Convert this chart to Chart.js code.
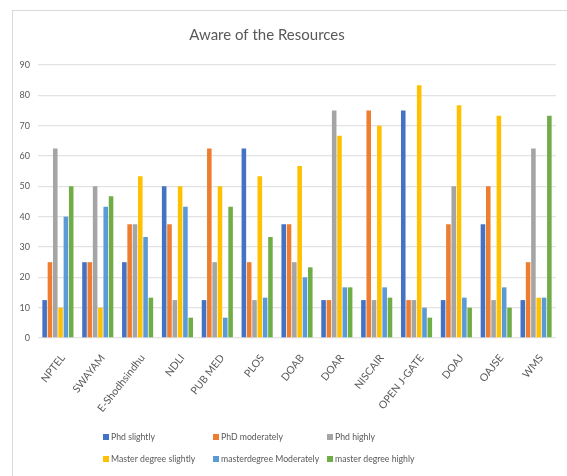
<!DOCTYPE html>
<html>
<head>
<meta charset="utf-8">
<script src="https://cdn.jsdelivr.net/npm/chart.js@4.4.0/dist/chart.umd.min.js"></script>
<style>
  body { margin: 0; background: #fff; }
  #wrap { position: relative; width: 567px; height: 476px; }
  #frame { position: absolute; left: 12px; top: 10px; width: 600px; height: 500px;
           border-left: 1px solid #d9d9d9; border-top: 1px solid #d9d9d9; }
</style>
</head>
<body>
<div id="wrap">
  <div id="frame"></div>
  <canvas id="myChart" width="567" height="476"></canvas>
</div>
<script>
// resources on the x axis
var resources = ['NPTEL', 'SWAYAM', 'E-Shodhsindhu', 'NDLI', 'PUB MED', 'PLOS', 'DOAB',
                 'DOAR', 'NISCAIR', 'OPEN J-GATE', 'DOAJ', 'OAJSE', 'WMS'];

// percentages
var phdSlightly     = [12.5, 25, 25, 50, 12.5, 62.5, 37.5, 12.5, 12.5, 75, 12.5, 37.5, 12.5];
var phdModerately   = [25, 25, 37.5, 37.5, 62.5, 25, 37.5, 12.5, 75, 12.5, 37.5, 50, 25];
var phdHighly       = [62.5, 50, 37.5, 12.5, 25, 12.5, 25, 75, 12.5, 12.5, 50, 12.5, 62.5];
var masterSlightly  = [10, 10, 53.3, 50, 50, 53.3, 56.7, 66.7, 70, 83.3, 76.7, 73.3, 13.3];
var masterModerately= [40, 43.3, 33.3, 43.3, 6.7, 13.3, 20, 16.7, 16.7, 10, 13.3, 16.7, 13.3];
var masterHighly    = [50, 46.7, 13.3, 6.7, 43.3, 33.3, 23.3, 16.7, 13.3, 6.7, 10, 10, 73.3];

var yTicks = [0, 10, 20, 30, 40, 50, 60, 70, 80, 90];

var textColor = '#595959';
var fontName = 'Lato';

// legend drawn as a 3 column grid like the excel one
var gridLegend = {
    id: 'gridLegend',
    afterLayout: function (chart) {
        // title sits a bit left of the middle in the original
        if (chart.titleBlock) {
            chart.titleBlock.left -= 17;
            chart.titleBlock.right -= 17;
        }
    },
    afterDraw: function (chart) {
        var ctx = chart.ctx;
        var cols = [103, 213, 327];
        var rows = [437, 459];
        ctx.save();
        ctx.font = '8.7px ' + fontName;
        ctx.textBaseline = 'middle';
        chart.data.datasets.forEach(function (ds, i) {
            var x = cols[i % 3];
            var y = rows[Math.floor(i / 3)];
            ctx.fillStyle = ds.backgroundColor;
            ctx.fillRect(x, y - 3, 6, 6);
            ctx.fillStyle = textColor;
            ctx.fillText(ds.label, x + 8, y);
        });
        ctx.restore();
    }
};

function makeSet(label, color, values) {
    return {
        label: label,
        backgroundColor: color,
        data: values,
        categoryPercentage: 0.8,
        barPercentage: 0.86
    };
}

var chartdata = {
    labels: resources,
    datasets: [
        makeSet('Phd slightly', '#4472C4', phdSlightly),
        makeSet('PhD moderately', '#ED7D31', phdModerately),
        makeSet('Phd highly', '#A5A5A5', phdHighly),
        makeSet('Master degree slightly', '#FFC000', masterSlightly),
        makeSet('masterdegree Moderately', '#5B9BD5', masterModerately),
        makeSet('master degree highly', '#70AD47', masterHighly)
    ]
};

var barGraph = new Chart(document.getElementById('myChart'), {
    type: 'bar',
    data: chartdata,
    plugins: [gridLegend],
    options: {
        responsive: false,
        animation: false,
        layout: { padding: { left: 12, right: 11, top: 0, bottom: 56 } },
        plugins: {
            legend: { display: false },
            tooltip: { enabled: false },
            title: {
                display: true,
                text: 'Aware of the Resources',
                color: textColor,
                font: { family: fontName, size: 15, weight: 'normal' },
                padding: { top: 26, bottom: 21 }
            }
        },
        scales: {
            x: {
                grid: { display: false },
                border: { display: false },
                ticks: {
                    color: textColor,
                    font: { family: fontName, size: 10.5 },
                    minRotation: 52,
                    maxRotation: 52,
                    autoSkip: false,
                    labelOffset: 5,
                    padding: 6
                },
                afterFit: function (s) { s.height = 82; }
            },
            y: {
                min: 0,
                max: 90,
                afterBuildTicks: function (s) {
                    s.ticks = yTicks.map(function (v) { return { value: v }; });
                },
                grid: { color: '#e3e3e3', lineWidth: 1.3, drawTicks: false },
                border: { display: false },
                ticks: {
                    color: textColor,
                    font: { family: fontName, size: 9 },
                    padding: 8
                },
                afterFit: function (s) { s.width = 26; }
            }
        }
    }
});
</script>
</body>
</html>
